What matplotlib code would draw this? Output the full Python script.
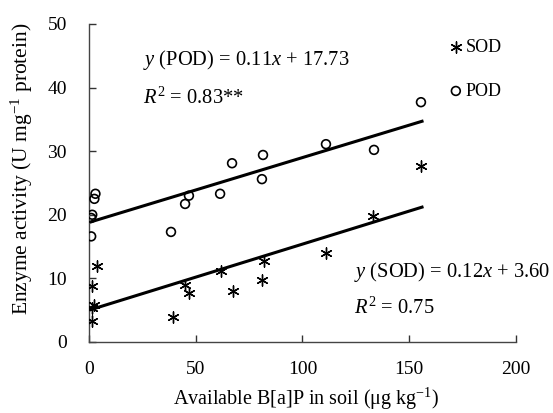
import matplotlib
matplotlib.use("Agg")
import matplotlib.pyplot as plt
import numpy as np

plt.rcParams["font.family"] = "Liberation Serif"
plt.rcParams["mathtext.fontset"] = "custom"
plt.rcParams["mathtext.rm"] = "Liberation Serif"
plt.rcParams["mathtext.it"] = "Liberation Serif:italic"

# POD points
pod_x = [1, 1, 1.5, 2.5, 3, 38.4, 45, 46.8, 61.4, 67, 81, 81.5, 111, 133.5, 155.5]
pod_y = [16.6, 19.5, 20.0, 22.5, 23.3, 17.3, 21.7, 23.0, 23.3, 28.1, 25.6, 29.4, 31.1, 30.2, 37.7]

# SOD points
sod_x = [1.4, 1.5, 2.3, 3.7, 1.3, 39.3, 45, 46.9, 61.8, 67.4, 81, 82, 111, 133, 155.5]
sod_y = [3.3, 5.3, 5.8, 12.0, 8.8, 3.9, 9.0, 7.7, 11.2, 8.0, 9.7, 12.7, 14.0, 19.8, 27.7]

# drawn trend lines (start, end)
line_x = [0, 156]
pod_line = [18.8, 34.7]
sod_line = [5.0, 21.2]

fig = plt.figure(figsize=(5.53, 4.13), dpi=100)
ax = fig.add_axes([0.161, 0.172, 0.772, 0.770])

ax.plot(line_x, pod_line, color="black", lw=2.2, zorder=2)
ax.plot(line_x, sod_line, color="black", lw=2.2, zorder=2)

ax.scatter(sod_x, sod_y, marker=(6, 2, 0), s=65, c="black", lw=1.0, label="SOD", zorder=3)
ax.scatter(pod_x, pod_y, marker="o", s=40, facecolors="none", edgecolors="black",
           lw=1.2, label="POD", zorder=3)

ax.set_xlim(0, 200)
ax.set_ylim(0, 50)
ax.set_xticks([0, 50, 100, 150, 200])
ax.set_yticks([0, 10, 20, 30, 40, 50])
ax.tick_params(direction="in", length=5, width=1, labelsize=14, colors="#333333",
               labelcolor="black")
ax.tick_params(axis="x", pad=14)
ax.tick_params(axis="y", pad=16)
for s in ["top", "right"]:
    ax.spines[s].set_visible(False)
for s in ["left", "bottom"]:
    ax.spines[s].set_color("#444444")
    ax.spines[s].set_linewidth(1)

fig.text(306 / 553, 1 - 399 / 413, "Available B[a]P in soil (μg kg$^{-1}$)",
         fontsize=14.5, ha="center", va="center")
fig.text(22 / 553, 1 - 169 / 413, "Enzyme activity (U mg$^{-1}$ protein)",
         fontsize=15.5, ha="center", va="center", rotation=90)

fs = 14.8
ax.text(25.3, 44.3, "$y$ (POD) = 0.11$x$ + 17.73", fontsize=fs, va="center", ha="left")
ax.text(25.3, 38.4, "$R^2$ = 0.83**", fontsize=fs, va="center", ha="left")
ax.text(124, 11.0, "$y$ (SOD) = 0.12$x$ + 3.60", fontsize=fs, va="center", ha="left")
ax.text(124, 5.3, "$R^2$ = 0.75", fontsize=fs, va="center", ha="left")

ax.legend(loc="upper left", bbox_to_anchor=(0.80, 1.005), frameon=False, fontsize=13,
          labelspacing=1.5, handletextpad=0.05, handlelength=1.0, scatterpoints=1)

fig.savefig("out.png", dpi=100)
